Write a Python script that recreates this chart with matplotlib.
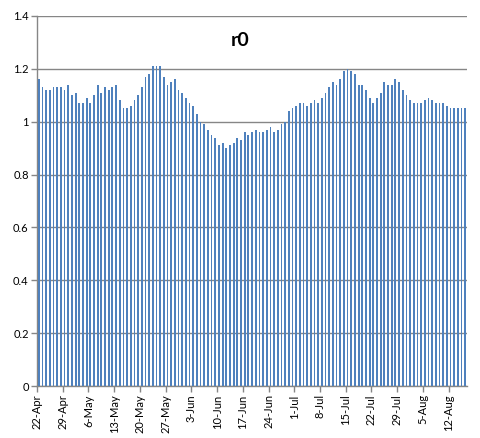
import matplotlib
import matplotlib.pyplot as plt
import numpy as np

matplotlib.use("Agg")

# daily r0 values, 22-Apr .. 16-Aug
r0_values = [
    1.16, 1.13, 1.12, 1.12, 1.13, 1.13, 1.13, 1.12, 1.14, 1.10,
    1.11, 1.07, 1.07, 1.09, 1.07, 1.10, 1.14, 1.11, 1.13, 1.12,
    1.13, 1.14, 1.08, 1.05, 1.05, 1.06, 1.08, 1.10, 1.13, 1.17,
    1.18, 1.21, 1.21, 1.21, 1.17, 1.14, 1.15, 1.16, 1.12, 1.11,
    1.09, 1.07, 1.06, 1.03, 1.00, 0.99, 0.97, 0.95, 0.94, 0.91,
    0.92, 0.90, 0.91, 0.92, 0.94, 0.93, 0.96, 0.95, 0.96, 0.97,
    0.96, 0.96, 0.97, 0.98, 0.96, 0.97, 0.99, 1.00, 1.04, 1.05,
    1.06, 1.07, 1.07, 1.06, 1.07, 1.08, 1.07, 1.09, 1.11, 1.13,
    1.15, 1.14, 1.16, 1.19, 1.20, 1.19, 1.18, 1.14, 1.14, 1.12,
    1.09, 1.07, 1.09, 1.11, 1.15, 1.14, 1.14, 1.16, 1.15, 1.12,
    1.10, 1.08, 1.07, 1.07, 1.07, 1.08, 1.09, 1.08, 1.07, 1.07,
    1.07, 1.06, 1.05, 1.05, 1.05, 1.05, 1.05,
]

week_labels = [
    "22-Apr", "29-Apr", "6-May", "13-May", "20-May", "27-May", "3-Jun",
    "10-Jun", "17-Jun", "24-Jun", "1-Jul", "8-Jul", "15-Jul", "22-Jul",
    "29-Jul", "5-Aug", "12-Aug",
]

y_ticks = [0, 0.2, 0.4, 0.6, 0.8, 1.0, 1.2, 1.4]
y_labels = ["0", "0.2", "0.4", "0.6", "0.8", "1", "1.2", "1.4"]

grid_color = "#868686"
bar_color = "#4F81BD"

plt.rcParams["font.family"] = ["Lato", "DejaVu Sans"]

fig = plt.figure(figsize=(4.81, 4.38), dpi=100)
ax = fig.add_axes([0.077, 0.1187, 0.894, 0.845])

x = np.arange(len(r0_values))
ax.bar(x, r0_values, width=0.48, color=bar_color, zorder=3)

ax.set_xlim(-0.5, len(r0_values) - 0.5)
ax.set_ylim(0, 1.4)

ax.set_yticks(y_ticks)
ax.set_yticklabels(y_labels, fontsize=8)
ax.yaxis.grid(True, color=grid_color, linewidth=1.0, zorder=0)

tick_pos = np.arange(len(week_labels)) * 7 - 0.5
ax.set_xticks(tick_pos)
ax.set_xticklabels(week_labels, rotation=90, fontsize=8)

ax.tick_params(axis="both", color=grid_color, length=4, width=1.0, pad=2)

for side in ["top", "right"]:
    ax.spines[side].set_visible(False)
for side in ["left", "bottom"]:
    ax.spines[side].set_color(grid_color)
    ax.spines[side].set_linewidth(1.0)

fig.text(0.5, 0.908, "r0", ha="center", va="center", fontsize=14, fontweight="bold")

fig.savefig("out.png", dpi=100)
plt.close(fig)
